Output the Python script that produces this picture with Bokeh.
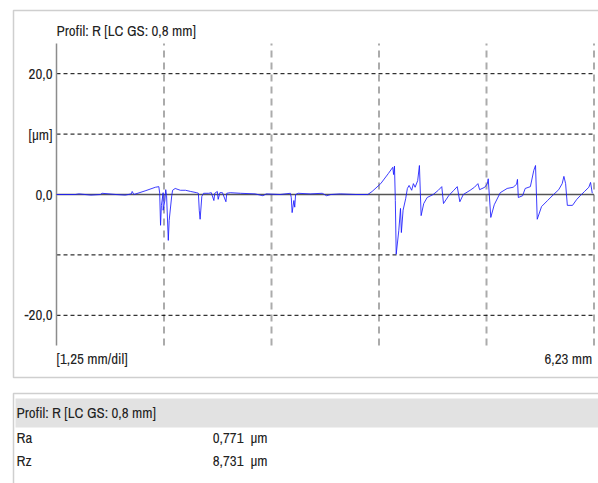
from bokeh.plotting import figure
from bokeh.models import Label, BoxAnnotation, ColumnDataSource, Range1d
from bokeh.core.properties import value
from bokeh.embed import file_html
from bokeh.resources import INLINE

# ---- data ----
profile_x_mm = [0.00, 0.22, 0.26, 0.40, 0.51, 0.53, 0.69, 0.80, 0.87, 0.88, 0.90, 1.03, 1.15, 1.19,
                1.20, 1.21, 1.22, 1.24, 1.24, 1.26, 1.27, 1.28, 1.30, 1.31, 1.34, 1.35, 1.38, 1.44,
                1.50, 1.56, 1.63, 1.65, 1.66, 1.67, 1.69, 1.71, 1.77, 1.80, 1.83, 1.84, 1.87, 1.88,
                1.90, 1.93, 1.97, 1.98, 2.02, 2.14, 2.31, 2.40, 2.44, 2.60, 2.72, 2.73, 2.74, 2.76,
                2.77, 2.78, 2.81, 2.95, 3.09, 3.14, 3.19, 3.30, 3.48, 3.62, 3.67, 3.77, 3.86, 3.91,
                3.92, 3.93, 3.94, 3.95, 3.98, 4.00, 4.01, 4.03, 4.06, 4.08, 4.10, 4.13, 4.15, 4.17,
                4.20, 4.22, 4.24, 4.27, 4.31, 4.38, 4.44, 4.48, 4.50, 4.56, 4.62, 4.66, 4.69, 4.73,
                4.81, 4.86, 4.90, 4.92, 4.98, 5.01, 5.02, 5.05, 5.09, 5.16, 5.24, 5.31, 5.35, 5.36,
                5.37, 5.42, 5.45, 5.51, 5.55, 5.57, 5.59, 5.64, 5.71, 5.78, 5.84, 5.88, 5.90, 5.92,
                5.94, 6.00, 6.05, 6.09, 6.14, 6.19, 6.21, 6.23]
profile_z_um = [0.0, 0.0, 0.1, -0.1, 0.0, 0.2, 0.0, -0.1, 0.1, 0.5, 0.0, 0.6, 1.2, 1.3,
                0.2, -5.1, -1.8, 0.3, -2.6, -1.0, 0.8, -0.2, -7.6, -4.3, -0.2, 0.7, 1.0, 0.7,
                0.7, 0.5, 0.3, 0.2, -2.6, -4.1, -0.3, 0.2, 0.2, 0.3, -1.0, 0.2, 0.5, -0.8,
                0.3, 0.3, -1.2, 0.2, 0.3, 0.2, 0.1, -0.2, 0.1, 0.0, 0.2, -0.5, -3.0, -1.0,
                -2.1, 0.0, 0.2, 0.1, 0.2, -0.2, 0.0, 0.1, 0.0, 0.0, 0.5, 1.8, 3.5, 4.5,
                3.3, 4.7, -1.0, -9.9, -6.0, -2.3, -6.3, -2.6, -0.7, 1.0, 1.5, 0.7, 1.8, 1.2,
                2.3, 4.8, -3.5, -1.5, -0.5, 0.0, 0.7, 1.3, -1.5, -0.2, 0.7, 1.3, -1.2, 0.0,
                0.7, 1.2, 1.8, 0.8, 1.2, 1.8, 2.6, -3.8, -1.7, 0.3, 1.0, 1.2, 1.7, 2.5,
                -0.5, -0.2, 1.0, 1.3, 4.0, 4.8, -4.1, -2.0, -1.0, 0.0, 0.8, 1.8, 3.0, 1.8,
                -1.8, -1.8, -0.8, -0.2, 0.5, 1.2, 2.0, 0.2]

y_ticks = [-20, -10, 0, 10, 20]
y_tick_labels = ["-20,0", "", "0,0", "[µm]", "20,0"]
x_grid_mm = [1.25, 2.50, 3.75, 5.00, 6.25]
x_span_mm = (0.0, 6.25)
y_span_um = (-25.0, 25.0)
profile_length_mm = 6.23

title_text = "Profil: R [LC GS: 0,8 mm]"
scale_text = "[1,25 mm/dil]"
length_text = "6,23 mm"
param_names = ["Ra", "Rz"]
param_values = ["0,771", "8,731"]
param_unit = "µm"

# ---- layout constants (pixels) ----
W, H = 598, 483
PLOT_L, PLOT_R, PLOT_T, PLOT_B = 56, 4.5, 43, 138     # margins of the plot area inside the canvas
FONT = "Archivo Narrow"
FS = "15px"
TXT = "#222222"

pw = W - PLOT_L - PLOT_R
ph = H - PLOT_T - PLOT_B
xs = (x_span_mm[1] - x_span_mm[0]) / pw
ys = (y_span_um[1] - y_span_um[0]) / ph
x_range = Range1d(x_span_mm[0] - PLOT_L * xs, x_span_mm[1] + PLOT_R * xs)
y_range = Range1d(y_span_um[0] - PLOT_B * ys, y_span_um[1] + PLOT_T * ys)

p = figure(width=W, height=H, x_range=x_range, y_range=y_range,
           output_backend="svg", toolbar_location=None,
           min_border=0, min_border_left=0, min_border_right=0, min_border_top=0, min_border_bottom=0)
p.axis.visible = False
p.grid.visible = False
p.outline_line_color = None
p.background_fill_color = "white"
p.border_fill_color = "white"

# frames and header band (screen units, relative to frame bottom-left)
def box(l, t, b, **kw):
    p.add_layout(BoxAnnotation(left=l, right=W + 50, top=H - t, bottom=H - b,
                               left_units="screen", right_units="screen",
                               top_units="screen", bottom_units="screen", level="underlay", **kw))

box(13, 10, 377, fill_alpha=0, line_color="#606060", line_width=1.5)
box(13, 393, H + 30, fill_alpha=0, line_color="#606060", line_width=1.5)
box(15, 398, 427, fill_color="#e2e2e2", fill_alpha=1, line_alpha=0)

txt_kw = dict(text_font=value(FONT), text_font_size=value(FS), text_color=TXT)

# grid
grid_y = [t for t in y_ticks if t != 0]
p.segment(x0=x_grid_mm, y0=[y_span_um[0]] * len(x_grid_mm), x1=x_grid_mm, y1=[y_span_um[1]] * len(x_grid_mm),
          line_color="#ababab", line_width=2, line_dash="7 5")
p.segment(x0=[x_span_mm[0]] * len(grid_y), y0=grid_y, x1=[x_span_mm[1]] * len(grid_y), y1=grid_y,
          line_color="black", line_width=1, line_dash="4 3")
p.segment(x0=[x_span_mm[0]], y0=[0], x1=[x_span_mm[1]], y1=[0], line_color="#555555", line_width=1.5)
# y axis line and tick labels
p.segment(x0=[x_span_mm[0]], y0=[y_span_um[0]], x1=[x_span_mm[0]], y1=[y_span_um[1]],
          line_color="#8c8c8c", line_width=1.5)
p.text(x=[x_span_mm[0]] * len(y_ticks), y=y_ticks, text=y_tick_labels, x_offset=-4,
       text_align="right", text_baseline="middle", **txt_kw)

# profile
src = ColumnDataSource(dict(x=profile_x_mm, z=profile_z_um))
p.line("x", "z", source=src, line_color="#1a1aff", line_width=1, line_alpha=0.85)

# chart texts
p.text(x=[x_span_mm[0]], y=[y_span_um[1]], text=[title_text], y_offset=-13,
       text_baseline="middle", **txt_kw)
p.text(x=[x_span_mm[0]], y=[y_span_um[0]], text=[scale_text], y_offset=13,
       text_baseline="middle", **txt_kw)
p.text(x=[profile_length_mm], y=[y_span_um[0]], text=[length_text], y_offset=13, text_align="right",
       text_baseline="middle", **txt_kw)

# table texts
def lab(x, y, t, align="left"):
    p.add_layout(Label(x=x, y=H - y, x_units="screen", y_units="screen", text=t,
                       text_font=FONT, text_font_size=FS, text_color=TXT,
                       text_align=align, text_baseline="middle"))

lab(16, 412, title_text)
for i, (n, v) in enumerate(zip(param_names, param_values)):
    yy = 437 + 23 * i
    lab(16, yy, n)
    lab(243, yy, v, "right")
    lab(250, yy, param_unit)

open("out.html", "w").write(file_html(p, INLINE))
